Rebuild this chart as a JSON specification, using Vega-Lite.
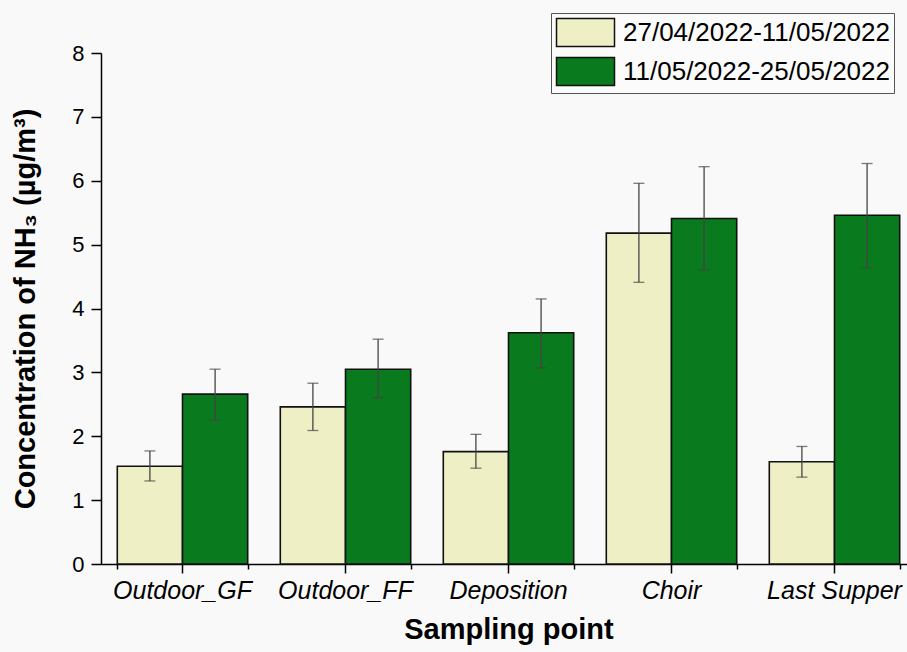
{
  "$schema": "https://vega.github.io/schema/vega-lite/v6.json",
  "width": 806,
  "height": 511,
  "autosize": "none",
  "padding": {"left": 101, "top": 53, "right": 0, "bottom": 88},
  "background": "#f9f9f9",
  "config": {
    "font": "Liberation Sans",
    "view": {"stroke": null}
  },
  "data": {
    "values": [
      {"site": "Outdoor_GF", "period": "27/04/2022-11/05/2022", "value": 1.53, "lo": 1.30, "hi": 1.77},
      {"site": "Outdoor_GF", "period": "11/05/2022-25/05/2022", "value": 2.66, "lo": 2.25, "hi": 3.05},
      {"site": "Outdoor_FF", "period": "27/04/2022-11/05/2022", "value": 2.46, "lo": 2.09, "hi": 2.83},
      {"site": "Outdoor_FF", "period": "11/05/2022-25/05/2022", "value": 3.05, "lo": 2.60, "hi": 3.52},
      {"site": "Deposition", "period": "27/04/2022-11/05/2022", "value": 1.76, "lo": 1.50, "hi": 2.03},
      {"site": "Deposition", "period": "11/05/2022-25/05/2022", "value": 3.62, "lo": 3.07, "hi": 4.15},
      {"site": "Choir", "period": "27/04/2022-11/05/2022", "value": 5.18, "lo": 4.41, "hi": 5.96},
      {"site": "Choir", "period": "11/05/2022-25/05/2022", "value": 5.41, "lo": 4.60, "hi": 6.22},
      {"site": "Last Supper", "period": "27/04/2022-11/05/2022", "value": 1.60, "lo": 1.36, "hi": 1.84},
      {"site": "Last Supper", "period": "11/05/2022-25/05/2022", "value": 5.46, "lo": 4.64, "hi": 6.27}
    ]
  },
  "encoding": {
    "x": {
      "field": "site",
      "type": "nominal",
      "sort": ["Outdoor_GF", "Outdoor_FF", "Deposition", "Choir", "Last Supper"],
      "scale": {"range": [0, 815], "paddingInner": 0.2, "paddingOuter": 0.1},
      "axis": null
    },
    "xOffset": {
      "field": "period",
      "type": "nominal",
      "sort": ["27/04/2022-11/05/2022", "11/05/2022-25/05/2022"]
    }
  },
  "resolve": {"axis": {"x": "independent"}},
  "layer": [
    {
      "mark": {"type": "tick", "opacity": 0, "orient": "horizontal"},
      "encoding": {
        "x": {
          "field": "site",
          "type": "nominal",
          "sort": ["Outdoor_GF", "Outdoor_FF", "Deposition", "Choir", "Last Supper"],
          "axis": {
            "orient": "bottom",
            "title": null,
            "labels": false,
            "domain": false,
            "tickBand": "extent",
            "tickSize": 5,
            "tickColor": "#000",
            "tickWidth": 1.5
          }
        },
        "y": {"field": "lo", "type": "quantitative"}
      }
    },
    {
      "mark": {"type": "bar", "stroke": "#111", "strokeWidth": 1.6},
      "encoding": {
        "x": {
          "field": "site",
          "type": "nominal",
          "sort": ["Outdoor_GF", "Outdoor_FF", "Deposition", "Choir", "Last Supper"],
          "axis": {
            "orient": "bottom",
            "title": "Sampling point",
            "labelAngle": 0,
            "labelFontSize": 25,
            "labelFontStyle": "italic",
            "labelColor": "#000",
            "labelPadding": 5,
            "tickSize": 9,
            "tickColor": "#000",
            "tickWidth": 1.5,
            "domainColor": "#000",
            "domainWidth": 1.5,
            "titleFontSize": 29,
            "titleFontWeight": "bold",
            "titleColor": "#000",
            "titlePadding": 12
          }
        },
        "y": {
          "field": "value",
          "type": "quantitative",
          "scale": {"domain": [0, 8], "nice": false},
          "axis": {
            "title": "Concentration of NH₃ (µg/m³)",
            "values": [0, 0.5, 1, 1.5, 2, 2.5, 3, 3.5, 4, 4.5, 5, 5.5, 6, 6.5, 7, 7.5, 8],
            "labelExpr": "datum.value % 1 === 0 ? format(datum.value, 'd') : ''",
            "tickSize": {"condition": {"test": "datum.value % 1 === 0", "value": 10}, "value": 5},
            "tickColor": "#000",
            "tickWidth": 1.5,
            "domainColor": "#000",
            "domainWidth": 1.5,
            "grid": false,
            "labelFontSize": 22,
            "labelColor": "#000",
            "labelPadding": 7,
            "titleFontSize": 29,
            "titleFontWeight": "bold",
            "titleColor": "#000",
            "titlePadding": 31
          }
        },
        "color": {
          "field": "period",
          "type": "nominal",
          "sort": ["27/04/2022-11/05/2022", "11/05/2022-25/05/2022"],
          "scale": {"range": ["#efefc6", "#0a7a1e"]},
          "legend": {
            "title": null,
            "orient": "none",
            "legendX": 450,
            "legendY": -40,
            "direction": "vertical",
            "padding": 4,
            "strokeColor": "#555",
            "fillColor": "#fbfbfb",
            "labelFontSize": 26,
            "labelColor": "#000",
            "labelOffset": 22,
            "labelLimit": 400,
            "symbolType": "M-2,-0.96H2V0.96H-2Z",
            "symbolSize": 841,
            "symbolOffset": 15,
            "symbolStrokeColor": "#111",
            "symbolStrokeWidth": 1.5,
            "symbolOpacity": 1,
            "rowPadding": 4
          }
        }
      }
    },
    {
      "mark": {"type": "rule", "color": "#444", "strokeWidth": 1.3},
      "encoding": {
        "y": {"field": "lo", "type": "quantitative"},
        "y2": {"field": "hi"}
      }
    },
    {
      "mark": {"type": "tick", "color": "#444", "size": 11, "thickness": 1.3, "orient": "horizontal"},
      "encoding": {"y": {"field": "lo", "type": "quantitative"}}
    },
    {
      "mark": {"type": "tick", "color": "#444", "size": 11, "thickness": 1.3, "orient": "horizontal"},
      "encoding": {"y": {"field": "hi", "type": "quantitative"}}
    }
  ]
}
